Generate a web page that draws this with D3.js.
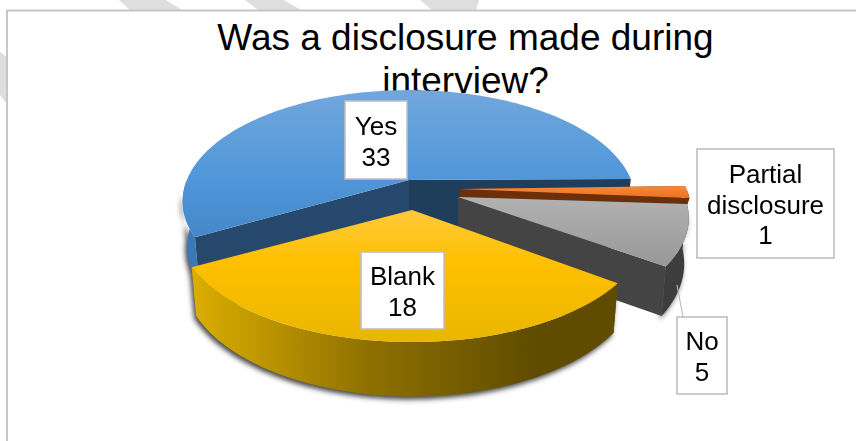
<!DOCTYPE html>
<html>
<head>
<meta charset="utf-8">
<script src="https://cdnjs.cloudflare.com/ajax/libs/d3/7.8.5/d3.min.js"></script>
<style>
  html, body { margin: 0; padding: 0; background: #fff; }
  svg { display: block; }
  text { font-family: "Liberation Sans", Arial, sans-serif; fill: #000; }
</style>
</head>
<body>
<svg id="chart" width="856" height="441"></svg>
<script>
// Chart content
const titleLines = ["Was a disclosure made during", "interview?"];
const categories = ["Yes", "Partial disclosure", "No", "Blank"];
const counts = [33, 1, 5, 18];

const rad = Math.PI / 180;

// Perspective pie: tilt, radii, and how far the rim reaches below the top face
const geometry = { rx: 220, ry: 107, perspective: 0.19, depth: 44, apexDrop: 48, floorScale: 0.98 };

// Per-slice layout, in the same order as the categories
const sliceLayout = [
  { apex: [409, 180], radius: 1.01, twist: 0, wall: 1,
    top: "url(#topBlue)", rim: "#3a78b6", cutStart: "#1f3e5b", cutEnd: "#25486c" },
  { apex: [460, 189], radius: 1.03, twist: -1, wall: 0.3,
    top: "url(#topOrange)", rim: "#6b3009", cutStart: "#6b3009", cutEnd: "#6b3009" },
  { apex: [458, 197], radius: 1.03, twist: -2, wall: 1,
    top: "url(#topGrey)", rim: "#3d3d3d", cutStart: "#444444", cutEnd: "#444444" },
  { apex: [412, 210], radius: 1.04, twist: 0, wall: 1,
    top: "url(#topGold)", rim: "url(#rimGold)", cutStart: "#5f4c00", cutEnd: "#5f4c00" }
];

// Callout boxes: outer rectangle and first baseline for each category
const calloutLayout = [
  { box: [345, 101, 62, 78],   baseline: 135, lines: ["Yes", "33"] },
  { box: [697, 149, 137, 109], baseline: 183, lines: ["Partial", "disclosure", "1"] },
  { box: [677, 317, 50, 77],   baseline: 350, lines: ["No", "5"] },
  { box: [361, 252, 83, 77],   baseline: 285, lines: ["Blank", "18"] }
];

const svg = d3.select("#chart");
const defs = svg.append("defs");

function linear(id, dir, stops) {
  const g = defs.append("linearGradient").attr("id", id)
    .attr("x1", 0).attr("y1", 0)
    .attr("x2", dir === "h" ? 1 : 0).attr("y2", dir === "h" ? 0 : 1);
  stops.forEach(([o, c]) => g.append("stop").attr("offset", o).attr("stop-color", c));
}
linear("topBlue", "v", [[0, "#72a7dc"], [0.55, "#5298da"], [1, "#4488c9"]]);
linear("topOrange", "v", [[0, "#f58a3c"], [1, "#ec711e"]]);
linear("topGrey", "v", [[0, "#b2b2b2"], [1, "#989898"]]);
linear("topGold", "v", [[0, "#ffc93d"], [0.4, "#ffc000"], [1, "#e9b600"]]);
linear("rimGold", "h", [[0, "#dcae00"], [0.42, "#8e7000"], [0.8, "#604c00"], [1, "#5f4c00"]]);

defs.append("filter").attr("id", "softShadow")
  .attr("x", "-10%").attr("y", "-10%").attr("width", "120%").attr("height", "120%")
  .append("feGaussianBlur").attr("stdDeviation", 2.6);

// Page furniture: pale diagonal bands and the chart frame
const bands = [
  [[119, 0], [166, 0], [182, 10], [130, 10]],
  [[245, 0], [284, 0], [301, 10], [258, 10]],
  [[420, 0], [479, 0], [476, 10], [432, 10]],
  [[0, 52], [7, 57], [7, 104], [0, 95]]
];
svg.append("g").selectAll("polygon").data(bands).join("polygon")
  .attr("points", d => d.join(" ")).attr("fill", "#dedede");

svg.append("path").attr("d", "M7,441V10.5H856")
  .attr("fill", "none").attr("stroke", "#c6c6c6").attr("stroke-width", 2);

// Title sits behind the pie
svg.append("g").selectAll("text").data(titleLines).join("text")
  .attr("x", 465.5).attr("y", (d, i) => 50 + i * 43)
  .attr("text-anchor", "middle").attr("font-size", 37)
  .text(d => d);

// Angles come straight from the counts, clockwise from the back of the pie
const arcs = d3.pie().sort(null).startAngle(-119 * rad).endAngle(241 * rad)(counts);

// Projects a clockwise angle onto the tilted plane, relative to a slice's apex
function rimPoint(angle, layout, floor) {
  const u = Math.sin(angle) * layout.radius;
  const v = -Math.cos(angle);
  const w = 1 / (1 - geometry.perspective * v);
  const k = floor ? geometry.floorScale : 1;
  const x = layout.apex[0] + geometry.rx * u * w * k;
  const y = layout.apex[1] + geometry.ry * v * w + (floor ? geometry.depth * layout.wall * w : 0);
  return [x, y];
}
function apexPoint(layout, floor) {
  return [layout.apex[0], layout.apex[1] + (floor ? geometry.apexDrop * layout.wall : 0)];
}

const line = d3.line();
const slices = arcs.map((a, i) => {
  const layout = sliceLayout[i];
  const t0 = a.startAngle + layout.twist * rad;
  const t1 = a.endAngle + layout.twist * rad;
  const steps = Math.max(4, Math.ceil((t1 - t0) / (1.5 * rad)));
  const angles = d3.range(steps + 1).map(s => t0 + (t1 - t0) * s / steps);
  // Only the part of the rim facing the viewer is ever seen
  const front = angles.filter(t => Math.cos(t) < 0);
  return { layout, t0, t1, angles, front, name: categories[i], value: a.value };
});

const wallPath = (s, angles) => line(
  angles.map(a => rimPoint(a, s.layout, false))
    .concat(angles.map(a => rimPoint(a, s.layout, true)).reverse())
) + "Z";

// Soft contact shadow under the outer walls, starting a little past the side of the pie
const shadowLayer = svg.append("g").attr("filter", "url(#softShadow)")
  .attr("transform", "translate(-2,3)");
slices.filter(s => s.front.length > 1 && s.layout.wall === 1).forEach(s => {
  shadowLayer.append("path").attr("d", wallPath(s, s.angles.filter(t => Math.cos(t) < -0.1)))
    .attr("fill", "#333333").attr("opacity", 0.9);
});

// Painter's order: each slice draws its two cut faces, its rim, then its top
slices.forEach(s => {
  const g = svg.append("g").attr("class", "slice");
  const L = s.layout;
  const top = s.angles.map(a => rimPoint(a, L, false));

  const cut = (angle, fill) => g.append("path")
    .attr("d", line([apexPoint(L, false), rimPoint(angle, L, false),
                     rimPoint(angle, L, true), apexPoint(L, true)]) + "Z")
    .attr("fill", fill);
  cut(s.t1, L.cutStart);
  cut(s.t0, L.cutEnd);

  if (s.front.length > 1) g.append("path").attr("d", wallPath(s, s.front)).attr("fill", L.rim);

  g.append("path").attr("d", line([apexPoint(L, false), ...top]) + "Z")
    .attr("fill", L.top);
});

// Leader from the "No" wedge to its callout
svg.append("line").attr("x1", 677).attr("y1", 285).attr("x2", 683).attr("y2", 317)
  .attr("stroke", "#bdbdbd").attr("stroke-width", 1.2);

// Callouts
const callouts = svg.append("g").selectAll("g").data(calloutLayout).join("g");
callouts.append("rect")
  .attr("x", d => d.box[0]).attr("y", d => d.box[1])
  .attr("width", d => d.box[2]).attr("height", d => d.box[3])
  .attr("fill", "#fff").attr("stroke", "#c0c0c0").attr("stroke-width", 1.6);
callouts.each(function (d) {
  d3.select(this).selectAll("text").data(d.lines).join("text")
    .attr("x", d.box[0] + d.box[2] / 2)
    .attr("y", (t, i) => d.baseline + i * 30.5)
    .attr("text-anchor", "middle").attr("font-size", 26)
    .text(t => t);
});
</script>
</body>
</html>
